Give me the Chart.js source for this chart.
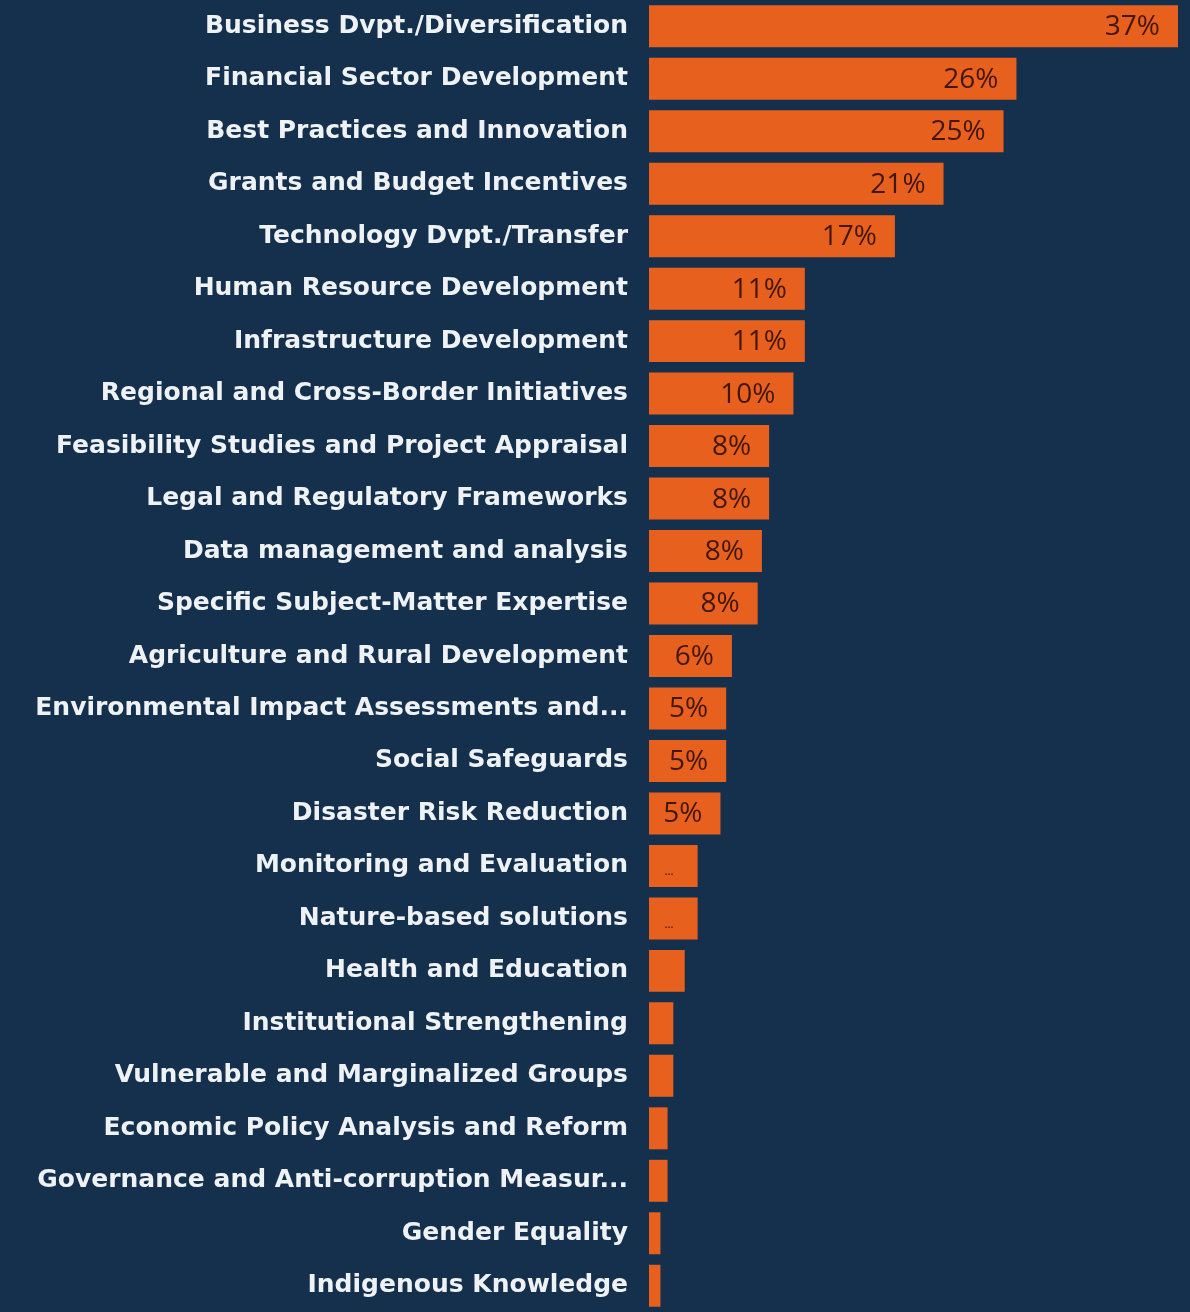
<!DOCTYPE html>
<html lang="en">
<head>
  <meta charset="UTF-8" />
  <title>Themes – share of projects</title>
  <script src="https://cdn.jsdelivr.net/npm/chart.js"></script>
  <style>
    :root {
      --bg: #15304c;
      --bar: #e8601e;
      --text: #eef2f5;
    }
    * { margin: 0; padding: 0; box-sizing: border-box; }
    html, body { background: var(--bg); }
    .wrap { position: relative; width: 1190px; height: 1312px; }
  </style>
</head>
<body>
<div class="wrap">
  <canvas id="themesChart"></canvas>
</div>

<script>
  // categories (labels as shown, already cut in the source)
  const themes = [
    "Business Dvpt./Diversification",
    "Financial Sector Development",
    "Best Practices and Innovation",
    "Grants and Budget Incentives",
    "Technology Dvpt./Transfer",
    "Human Resource Development",
    "Infrastructure Development",
    "Regional and Cross-Border Initiatives",
    "Feasibility Studies and Project Appraisal",
    "Legal and Regulatory Frameworks",
    "Data management and analysis",
    "Specific Subject-Matter Expertise",
    "Agriculture and Rural Development",
    "Environmental Impact Assessments and...",
    "Social Safeguards",
    "Disaster Risk Reduction",
    "Monitoring and Evaluation",
    "Nature-based solutions",
    "Health and Education",
    "Institutional Strengthening",
    "Vulnerable and Marginalized Groups",
    "Economic Policy Analysis and Reform",
    "Governance and Anti-corruption Measur...",
    "Gender Equality",
    "Indigenous Knowledge"
  ];

  // share of projects, %
  const shares = [37, 25.7, 24.8, 20.6, 17.2, 10.9, 10.9, 10.1, 8.4, 8.4, 7.9, 7.6,
                  5.8, 5.4, 5.4, 5.0, 3.4, 3.4, 2.5, 1.7, 1.7, 1.3, 1.3, 0.8, 0.8];

  const LABEL_FONT = "'DejaVu Sans', sans-serif";
  const VALUE_FONT = "'Open Sans', Roboto, sans-serif";

  // value label inside the bar, right side; "..." when it doesn't fit
  const valueLabels = {
    id: 'valueLabels',
    afterDatasetsDraw(chart) {
      const ctx = chart.ctx;
      const meta = chart.getDatasetMeta(0);
      ctx.save();
      ctx.fillStyle = '#42170a';
      ctx.textAlign = 'right';
      ctx.textBaseline = 'middle';
      meta.data.forEach((bar, i) => {
        const txt = Math.round(shares[i]) + '%';
        ctx.font = `500 28px ${VALUE_FONT}`;
        const w = bar.x - bar.base;
        const tw = ctx.measureText(txt).width;
        if (tw + 26 <= w) {
          ctx.fillText(txt, bar.x - 18, bar.y + 1);
        } else if (w > 40) {
          ctx.font = `600 11px ${VALUE_FONT}`;
          ctx.textAlign = 'center';
          ctx.fillText('...', bar.base + 20, bar.y + 6);
          ctx.textAlign = 'right';
        }
      });
      ctx.restore();
    }
  };

  const barColor = getComputedStyle(document.documentElement).getPropertyValue('--bar').trim();
  const textColor = getComputedStyle(document.documentElement).getPropertyValue('--text').trim();

  new Chart(document.getElementById('themesChart'), {
    type: 'bar',
    data: {
      labels: themes,
      datasets: [{
        data: shares,
        backgroundColor: barColor,
        borderWidth: 0,
        categoryPercentage: 1,
        barPercentage: 0.8
      }]
    },
    options: {
      indexAxis: 'y',
      responsive: true,
      maintainAspectRatio: false,
      animation: false,
      layout: { padding: { left: 0, right: 12, top: 0, bottom: 0 } },
      plugins: { legend: { display: false }, tooltip: { enabled: false } },
      scales: {
        x: { display: false, min: 0, max: 37 },
        y: {
          // gap between label and bar via tickLength
          grid: { display: false, drawTicks: true, tickLength: 21 },
          border: { display: false },
          afterFit(scale) {
            scale.width = 649;
            // rows fill the whole height, no room kept for half labels
            scale.paddingTop = 0;
            scale.paddingBottom = 0;
          },
          ticks: {
            color: textColor,
            padding: 0,
            autoSkip: false,
            font: { family: LABEL_FONT, size: 25, weight: 'bold' }
          }
        }
      }
    },
    plugins: [valueLabels]
  });
</script>
</body>
</html>
